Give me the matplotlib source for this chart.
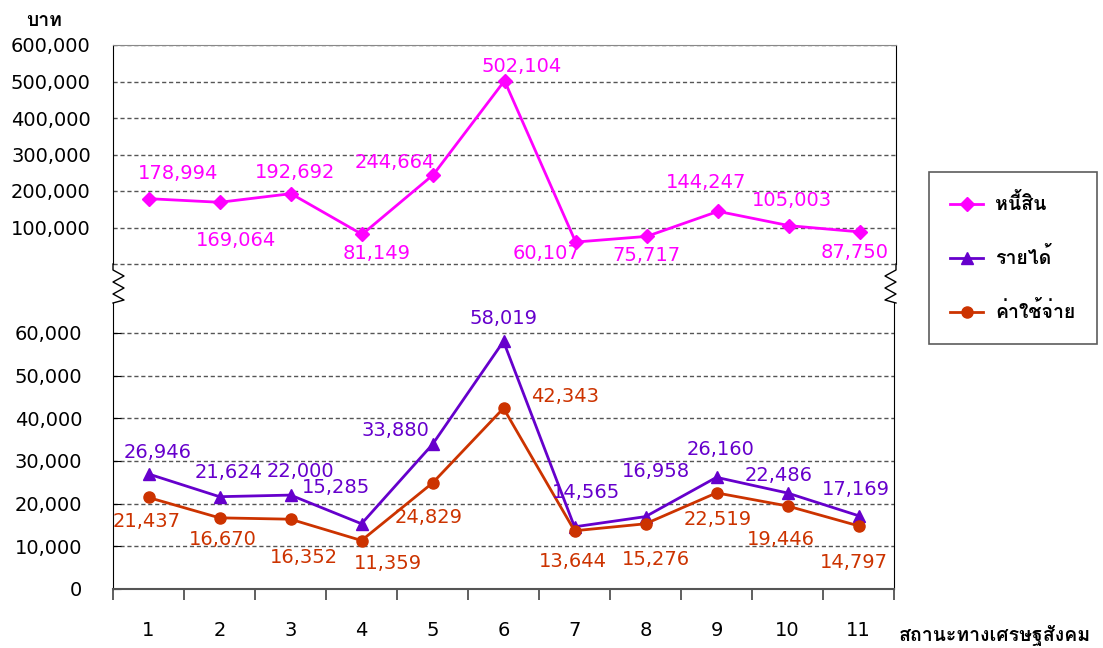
import matplotlib as mpl
mpl.use('Agg')
import matplotlib.pyplot as plt
from matplotlib import font_manager as fm
from matplotlib.ft2font import FT2Font
from matplotlib.lines import Line2D
from matplotlib.ticker import FuncFormatter, FixedLocator

# data
categories = [1, 2, 3, 4, 5, 6, 7, 8, 9, 10, 11]
debt = [178994, 169064, 192692, 81149, 244664, 502104, 60107, 75717, 144247, 105003, 87750]
income = [26946, 21624, 22000, 15285, 33880, 58019, 14565, 16958, 26160, 22486, 17169]
expense = [21437, 16670, 16352, 11359, 24829, 42343, 13644, 15276, 22519, 19446, 14797]
series_names = ['หนี้สิน', 'รายได้', 'ค่าใช้จ่าย']
y_unit = 'บาท'
x_title = 'สถานะทางเศรษฐสังคม'

# label offsets in pixels (dx, dy)
debt_off = [(29, 25), (16, -38), (4, 21), (14, -19), (-39, 12), (17, 14),
            (-29, -11), (0, -19), (-12, 29), (3, 25), (-6, -21)]
income_off = [(9, 21), (9, 24), (10, 24), (-26, 36), (-37, 14), (0, 23),
              (11, 34), (10, 45), (4, 28), (-9, 18), (-3, 26)]
expense_off = [(-2, -24), (3, -22), (13, -38), (26, -23), (-4, -34), (62, 12),
               (-2, -31), (10, -36), (1, -27), (-7, -34), (-5, -37)]


def find_thai_font():
    for f in fm.fontManager.ttflist:
        try:
            cm = FT2Font(f.fname).get_charmap()
        except Exception:
            continue
        if 0x0E1A in cm and 0x0E49 in cm and 0x0E2A in cm:
            return f.name
    return None


thai = find_thai_font()
fams = ['DejaVu Sans']
if thai:
    fams.append(thai)
plt.rcParams['font.family'] = fams

W, H = 1103, 648
fig = plt.figure(figsize=(W / 100, H / 100), dpi=100)

def px_box(l, t, r, b):
    return [l / W, 1 - b / H, (r - l) / W, (b - t) / H]

ax_top = fig.add_axes(px_box(113, 45, 896, 264))
ax_bot = fig.add_axes(px_box(113, 303, 894, 589))

MAG = '#FF00FF'
PUR = '#6600CC'
ORG = '#CC3300'
GRID = '#555555'
DASH = (0, (3, 2))
fmt = FuncFormatter(lambda v, p: f'{int(v):,}')

# top axes
ax_top.plot(categories, debt, color=MAG, lw=2, marker='D', ms=7, label=series_names[0])
ax_top.set_xlim(0.5, 11.5)
ax_top.set_ylim(0, 600000)
ax_top.yaxis.set_major_locator(FixedLocator([100000, 200000, 300000, 400000, 500000, 600000]))
ax_top.yaxis.set_major_formatter(fmt)
ax_top.grid(axis='y', ls=DASH, color=GRID, lw=1)
ax_top.axhline(0, ls=DASH, color=GRID, lw=1, clip_on=False)
ax_top.set_xticks([])
ax_top.spines['bottom'].set_visible(False)
ax_top.spines['top'].set_color('#888888')
for s in ['left', 'right']:
    ax_top.spines[s].set_color('black')
ax_top.tick_params(axis='y', length=0, pad=16, labelsize=14)
for x, y, (dx, dy) in zip(categories, debt, debt_off):
    ax_top.annotate(f'{y:,}', (x, y), xytext=(dx, dy), textcoords='offset pixels',
                    ha='center', va='center', color=MAG, fontsize=14)

# bottom axes
ax_bot.plot(categories, income, color=PUR, lw=2, marker='^', ms=8, label=series_names[1])
ax_bot.plot(categories, expense, color=ORG, lw=2, marker='o', ms=8, label=series_names[2])
ax_bot.set_xlim(0.5, 11.5)
ax_bot.set_ylim(0, 67000)
ax_bot.yaxis.set_major_locator(FixedLocator([0, 10000, 20000, 30000, 40000, 50000, 60000]))
ax_bot.yaxis.set_major_formatter(fmt)
ax_bot.grid(axis='y', ls=DASH, color=GRID, lw=1)
ax_bot.spines['top'].set_visible(False)
ax_bot.spines['bottom'].set_color('#555555')
ax_bot.spines['bottom'].set_linewidth(1.5)
ax_bot.tick_params(axis='y', direction='in', length=6, pad=22, labelsize=14)
ax_bot.set_xticks(categories)
ax_bot.set_xticklabels([str(c) for c in categories])
ax_bot.set_xticks([c - 0.5 for c in categories] + [11.5], minor=True)
ax_bot.tick_params(axis='x', which='major', length=0, pad=23, labelsize=14)
ax_bot.tick_params(axis='x', which='minor', length=8, width=1.2, color='#444444')
for x, y, (dx, dy) in zip(categories, income, income_off):
    ax_bot.annotate(f'{y:,}', (x, y), xytext=(dx, dy), textcoords='offset pixels',
                    ha='center', va='center', color=PUR, fontsize=14)
for x, y, (dx, dy) in zip(categories, expense, expense_off):
    ax_bot.annotate(f'{y:,}', (x, y), xytext=(dx, dy), textcoords='offset pixels',
                    ha='center', va='center', color=ORG, fontsize=14)

# axis break zigzags
def zig(x0, sign):
    xs = [x0, x0, x0 + sign * 11, x0, x0 + sign * 11, x0, x0 + sign * 11, x0, x0]
    ys = [264, 270, 276, 282, 288, 294, 300, 303, 303]
    fig.add_artist(Line2D([x / W for x in xs], [1 - y / H for y in ys],
                          color='black', lw=1, transform=fig.transFigure))

zig(113, 1)
zig(896, -1)

# texts
fig.text(44 / W, 1 - 20 / H, y_unit, ha='center', va='center', fontsize=14, fontweight='bold')
fig.text(995 / W, 1 - 635 / H, x_title, ha='center', va='center', fontsize=14, fontweight='bold')

handles = ax_top.get_lines()[:1] + ax_bot.get_lines()[:2]
leg = fig.legend(handles, series_names, loc='upper left', bbox_to_anchor=(929 / W, 1 - 172 / H),
                 borderaxespad=0, frameon=True, fancybox=False, edgecolor='#333333',
                 handlelength=1.7, handletextpad=0.6, labelspacing=1.7, borderpad=1.1,
                 prop={'weight': 'bold', 'size': 14})
leg.get_frame().set_linewidth(1.2)

fig.savefig('out.png', dpi=100)
